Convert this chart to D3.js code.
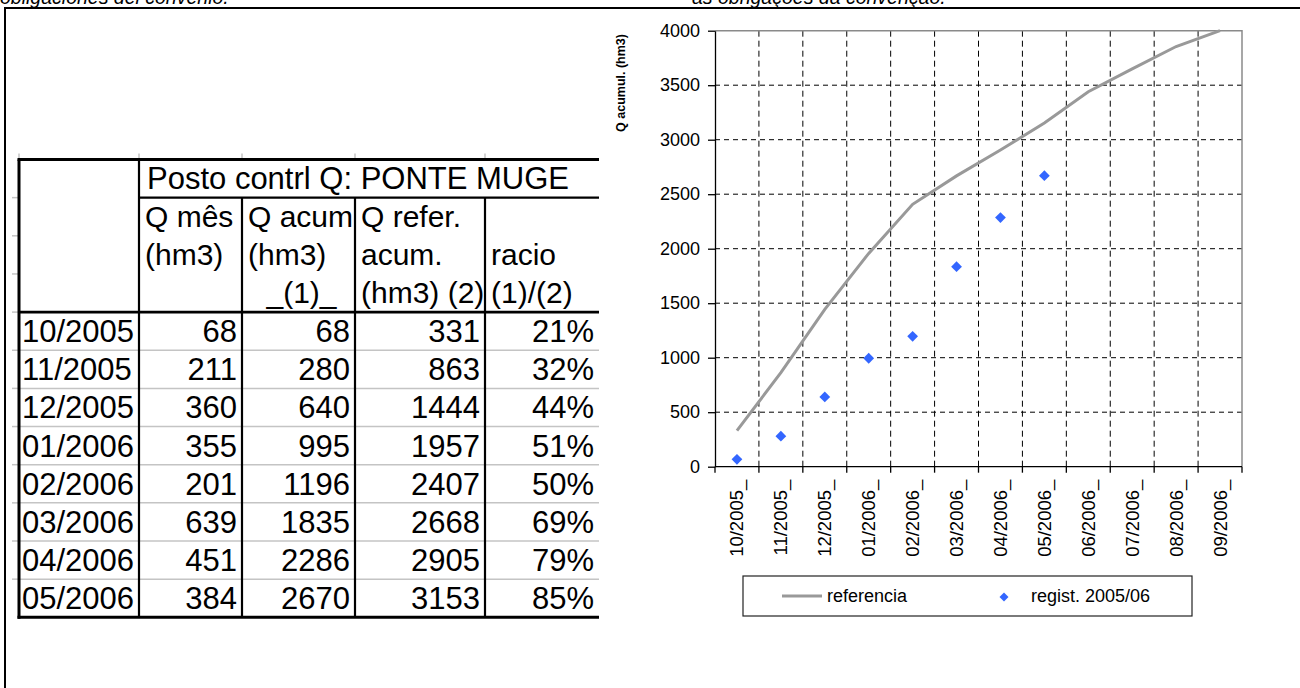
<!DOCTYPE html>
<html>
<head>
<meta charset="utf-8">
<script src="https://cdn.jsdelivr.net/npm/d3@7"></script>
<style>
  html, body { margin: 0; padding: 0; background: #fff; }
  svg { display: block; font-family: "Liberation Sans", Arial, sans-serif; }
</style>
</head>
<body>
<svg id="sheet" width="1300" height="688"></svg>
<script>
// Monthly flow control at Ponte Muge, hydrological year 2005/06
const months = ["10/2005", "11/2005", "12/2005", "01/2006", "02/2006", "03/2006",
                "04/2006", "05/2006", "06/2006", "07/2006", "08/2006", "09/2006"];
const monthlyQ = [68, 211, 360, 355, 201, 639, 451, 384];          // Q mês (hm3)
const cumulQ = [68, 280, 640, 995, 1196, 1835, 2286, 2670];         // Q acum (hm3) (1)
const referenceQ = [331, 863, 1444, 1957, 2407, 2668, 2905, 3153,
                    3440, 3650, 3855, 4000];                         // Q refer. acum. (hm3) (2)
const yTicks = [0, 500, 1000, 1500, 2000, 2500, 3000, 3500, 4000];

const headerTitle = "Posto contrl Q: PONTE MUGE";
const headerRows = [
  ["Q mês", "Q acum", "Q refer.", ""],
  ["(hm3)", "(hm3)", "acum.", "racio"],
  ["", "_(1)_", "(hm3) (2)", "(1)/(2)"]
];
const seriesNames = ["referencia", "regist. 2005/06"];

const svg = d3.select("#sheet");
svg.append("rect").attr("width", 1300).attr("height", 688).attr("fill", "#fff");

// ---- surrounding page text (runs off the top edge) ----
const page = svg.append("g").style("font-style", "italic").style("font-size", "19.5px");
page.append("text").attr("x", 0).attr("y", 3.5).text("obligaciones del convenio.");
page.append("text").attr("x", 692).attr("y", 3.5).text("as obrigações da convenção.");

// frame of the text box
svg.append("line").attr("x1", 4).attr("x2", 1300).attr("y1", 8).attr("y2", 8)
  .attr("stroke", "#000").attr("stroke-width", 2.2);
svg.append("line").attr("x1", 5).attr("x2", 5).attr("y1", 7).attr("y2", 688)
  .attr("stroke", "#000").attr("stroke-width", 2);

// ---- table ----
const colX = [19, 139, 242, 355, 485];
const tableRight = 599;
const tableTop = 159.5;
const rowH = 38.15;
const nHead = 4;
const rowY = i => tableTop + i * rowH;
const tableBottom = rowY(nHead + monthlyQ.length);

svg.append("clipPath").attr("id", "tableClip")
  .append("rect").attr("x", 0).attr("y", 0).attr("width", tableRight).attr("height", 688);
const tbl = svg.append("g").attr("clip-path", "url(#tableClip)").style("font-size", "30px");

// faint worksheet gridline stubs
const grey = "#c4c4c4";
tbl.selectAll("line.stubV").data(colX).join("line")
  .attr("x1", d => d).attr("x2", d => d).attr("y1", tableTop - 6).attr("y2", tableTop)
  .attr("stroke", grey).attr("stroke-width", 1.5);
tbl.selectAll("line.stubH").data(d3.range(1, nHead + monthlyQ.length)).join("line")
  .attr("x1", 12).attr("x2", colX[0]).attr("y1", d => rowY(d)).attr("y2", d => rowY(d))
  .attr("stroke", grey).attr("stroke-width", 1.5);
tbl.selectAll("line.rowSep").data(d3.range(nHead + 1, nHead + monthlyQ.length)).join("line")
  .attr("x1", colX[0]).attr("x2", tableRight).attr("y1", d => rowY(d)).attr("y2", d => rowY(d))
  .attr("stroke", grey).attr("stroke-width", 1.5);

// black cell borders
const blk = (x1, y1, x2, y2, w) => tbl.append("line")
  .attr("x1", x1).attr("y1", y1).attr("x2", x2).attr("y2", y2)
  .attr("stroke", "#000").attr("stroke-width", w);
blk(colX[0] - 1.5, tableTop, tableRight, tableTop, 3);
blk(colX[0], tableTop, colX[0], tableBottom + 1.5, 3);
blk(colX[0] - 1.5, tableBottom, tableRight, tableBottom, 3);
blk(colX[1], tableTop, colX[1], tableBottom, 2.2);
blk(colX[1], rowY(1), tableRight, rowY(1), 2.2);
blk(colX[0], rowY(nHead), tableRight, rowY(nHead), 2.6);
colX.slice(2).forEach(cx => blk(cx, rowY(1), cx, tableBottom, 2.2));

// header text
tbl.append("text").attr("x", colX[1] + 8).attr("y", rowY(0) + 29)
  .style("font-size", "31px").text(headerTitle);
headerRows.forEach((row, r) => {
  row.forEach((t, c) => {
    if (!t) return;
    const txt = tbl.append("text").attr("y", rowY(r + 1) + 29).text(t);
    if (t === "_(1)_") {
      txt.attr("x", (colX[2] + colX[3]) / 2 + 3).attr("text-anchor", "middle");
    } else {
      txt.attr("x", colX[c + 1] + 6);
    }
  });
});

// body rows
const pct = d3.format(".0%");
const rows = months.slice(0, monthlyQ.length).map((m, i) => [
  m, monthlyQ[i], cumulQ[i], referenceQ[i], pct(cumulQ[i] / referenceQ[i])
]);
const rightEdges = [colX[2], colX[3], colX[4], tableRight];
const body = tbl.append("g").style("font-size", "31px");
rows.forEach((r, i) => {
  const by = rowY(nHead + i) + 30;
  body.append("text").attr("x", colX[0] + 3).attr("y", by).text(r[0]);
  r.slice(1).forEach((v, j) => {
    body.append("text").attr("x", rightEdges[j] - 5).attr("y", by)
      .attr("text-anchor", "end").text(v);
  });
});

// ---- chart ----
const plot = { left: 715, right: 1242, top: 30.7, bottom: 466.7 };
const x = d3.scaleBand().domain(months).range([plot.left, plot.right]).padding(0);
const y = d3.scaleLinear().domain([0, 4000]).range([plot.bottom, plot.top]);
const bw = x.bandwidth();
const cx = m => x(m) + bw / 2;

const chart = svg.append("g").style("font-size", "18px");

// dashed grid
chart.selectAll("line.hgrid").data(yTicks.filter(v => v > 0 && v < 4000)).join("line")
  .attr("x1", plot.left).attr("x2", plot.right)
  .attr("y1", d => y(d)).attr("y2", d => y(d))
  .attr("stroke", "#000").attr("stroke-width", 1).attr("stroke-dasharray", "5,4");
chart.selectAll("line.vgrid").data(months.slice(1)).join("line")
  .attr("x1", d => x(d)).attr("x2", d => x(d))
  .attr("y1", plot.top).attr("y2", plot.bottom)
  .attr("stroke", "#000").attr("stroke-width", 1).attr("stroke-dasharray", "6,4");

// plot area border (top and right)
chart.append("path")
  .attr("d", `M${plot.left},${plot.top}H${plot.right}V${plot.bottom}`)
  .attr("fill", "none").attr("stroke", "#8a8a8a").attr("stroke-width", 1.5);

// y axis
const yAxis = chart.append("g").attr("transform", `translate(${plot.left},0)`)
  .call(d3.axisLeft(y).tickValues(yTicks).tickFormat(d3.format("d"))
    .tickSize(7).tickPadding(8).tickSizeOuter(0));
yAxis.select(".domain").attr("stroke", "#000").attr("stroke-width", 1.3);
yAxis.selectAll(".tick line").attr("stroke", "#000").attr("stroke-width", 1.3);
yAxis.selectAll("text").style("font-size", "18px").attr("fill", "#000")
  .style("font-family", "'Liberation Sans', Arial, sans-serif");

// x axis: labels at band centres, tick marks on band boundaries
const xAxis = chart.append("g").attr("transform", `translate(0,${plot.bottom})`)
  .call(d3.axisBottom(x).tickSize(0).tickPadding(0).tickFormat(d => d + "_"));
xAxis.select(".domain").remove();
xAxis.selectAll("text")
  .style("font-size", "18.5px").attr("fill", "#000")
  .style("font-family", "'Liberation Sans', Arial, sans-serif")
  .attr("transform", "rotate(-90)")
  .attr("x", -13).attr("y", 0).attr("dy", "0.35em")
  .style("text-anchor", "end");
chart.append("line").attr("x1", plot.left).attr("x2", plot.right)
  .attr("y1", plot.bottom).attr("y2", plot.bottom)
  .attr("stroke", "#000").attr("stroke-width", 1.3);
chart.selectAll("line.xtick").data(months.concat([null])).join("line")
  .attr("x1", d => d ? x(d) : plot.right).attr("x2", d => d ? x(d) : plot.right)
  .attr("y1", plot.bottom).attr("y2", plot.bottom + 6)
  .attr("stroke", "#000").attr("stroke-width", 1.3);

// axis title
chart.append("text")
  .attr("transform", "translate(621,83) rotate(-90)")
  .attr("text-anchor", "middle").attr("dy", "0.35em")
  .style("font-size", "12.5px").style("font-weight", "bold")
  .text("Q acumul. (hm3)");

// reference line
const refLine = d3.line().x((d, i) => cx(months[i])).y(d => y(d));
chart.append("path").datum(referenceQ).attr("d", refLine)
  .attr("fill", "none").attr("stroke", "#999999").attr("stroke-width", 3);

// recorded cumulative flow
const diamond = d3.symbol(d3.symbolSquare, 58);
chart.selectAll("path.pt").data(cumulQ).join("path")
  .attr("d", diamond)
  .attr("transform", (d, i) => `translate(${cx(months[i])},${y(d)}) rotate(45)`)
  .attr("fill", "#3366ff");

// legend
const lg = chart.append("g");
lg.append("rect").attr("x", 743).attr("y", 576).attr("width", 449).attr("height", 40)
  .attr("fill", "#fff").attr("stroke", "#222").attr("stroke-width", 1.2);
lg.append("line").attr("x1", 782).attr("x2", 822).attr("y1", 596).attr("y2", 596)
  .attr("stroke", "#999999").attr("stroke-width", 3);
lg.append("text").attr("x", 827).attr("y", 602).style("font-size", "18px").text(seriesNames[0]);
lg.append("path").attr("d", d3.symbol(d3.symbolSquare, 40))
  .attr("transform", "translate(1004,597) rotate(45)").attr("fill", "#3366ff");
lg.append("text").attr("x", 1031).attr("y", 602).style("font-size", "18px").text(seriesNames[1]);
</script>
</body>
</html>
